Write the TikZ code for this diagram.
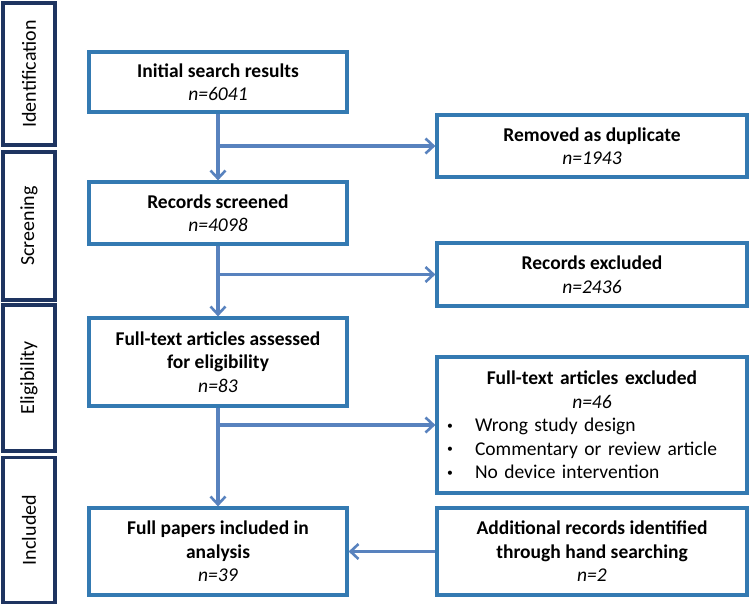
\documentclass[tikz,border=0pt]{standalone}
\usepackage{fontspec}
\setmainfont{Carlito}
\usetikzlibrary{arrows.meta,positioning,calc}

\definecolor{boxblue}{RGB}{52,122,178}
\definecolor{arrowblue}{RGB}{88,130,190}
\definecolor{stagenavy}{RGB}{30,52,96}

\newcommand{\listdot}{\makebox[30pt][l]{\hspace{2pt}\raisebox{0.28ex}{\scalebox{0.6}{\textbullet}}}}

\begin{document}
\begin{tikzpicture}[
    x=1pt, y=-1pt,
    font=\fontsize{19.5}{23.5}\selectfont,
    box/.style={rectangle, draw=boxblue, line width=3.2pt, fill=white, align=center, inner sep=4pt},
    mainbox/.style={box, minimum width=258pt},
    sidebox/.style={box, minimum width=310pt},
    stagebox/.style={rectangle, draw=stagenavy, line width=3.4pt, fill=white, minimum width=52pt},
    stagetext/.style={rotate=90, font=\fontsize{20}{24}\selectfont},
    arrow/.style={->, >={Straight Barb[length=8pt,width=15pt,line width=2.6pt]}, draw=arrowblue, line width=3.2pt}
]
    \useasboundingbox (0,0) rectangle (750,606);

    % Fasi (colonna di sinistra)
    \node[stagebox, minimum height=142pt] (identification) at (29,74) {};
    \node[stagetext] at (identification) {Identification};
    \node[stagebox, minimum height=148pt] (screening) at (29,226) {};
    \node[stagetext] at (screening) {Screening};
    \node[stagebox, minimum height=146pt] (eligibility) at (29,378) {};
    \node[stagetext] at (eligibility) {Eligibility};
    \node[stagebox, minimum height=145pt] (includedstage) at (29,530) {};
    \node[stagetext] at (includedstage) {Included};

    % Colonna principale
    \node[mainbox, minimum height=60pt] (initial) at (218,82) {\textbf{Initial search results}\\\textit{n=6041}};
    \node[mainbox, minimum height=62pt] (screened) at (218,213) {\textbf{Records screened}\\\textit{n=4098}};
    \node[mainbox, minimum height=88pt] (assessed) at (218,362) {\textbf{Full-text articles assessed}\\\textbf{for eligibility}\\\textit{n=83}};
    \node[mainbox, minimum height=87pt] (included) at (218,551.5) {\textbf{Full papers included in}\\\textbf{analysis}\\\textit{n=39}};

    % Colonna di destra
    \node[sidebox, minimum height=62pt] (removed) at (592,146) {\textbf{Removed as duplicate}\\\textit{n=1943}};
    \node[sidebox, minimum height=63pt] (excluded) at (592,274.5) {\textbf{Records excluded}\\\textit{n=2436}};
    \node[sidebox, minimum height=136pt, text width=294pt, inner xsep=8pt, align=left] (ftexcluded) at (592,425)
        {\makebox[\linewidth]{\textbf{Full-text articles excluded}}\\
         \makebox[\linewidth]{\textit{n=46}}\\
         \listdot Wrong study design\\
         \listdot Commentary or review article\\
         \listdot No device intervention};
    \node[sidebox, minimum height=87pt] (additional) at (592,551.5) {\textbf{Additional records identified}\\\textbf{through hand searching}\\\textit{n=2}};

    % Punti di diramazione
    \coordinate (split1) at (initial.south |- removed.west);
    \coordinate (split2) at (screened.south |- excluded.west);
    \coordinate (split3) at (assessed.south |- ftexcluded.west);

    % Frecce
    \draw[arrow] (initial) -- (screened);
    \draw[arrow] (screened) -- (assessed);
    \draw[arrow] (assessed) -- (included);
    \draw[arrow] (split1) -- (removed.west);
    \draw[arrow] (split2) -- (excluded.west);
    \draw[arrow] (split3) -- (ftexcluded.west);
    \draw[arrow] (additional) -- (included);
\end{tikzpicture}
\end{document}
